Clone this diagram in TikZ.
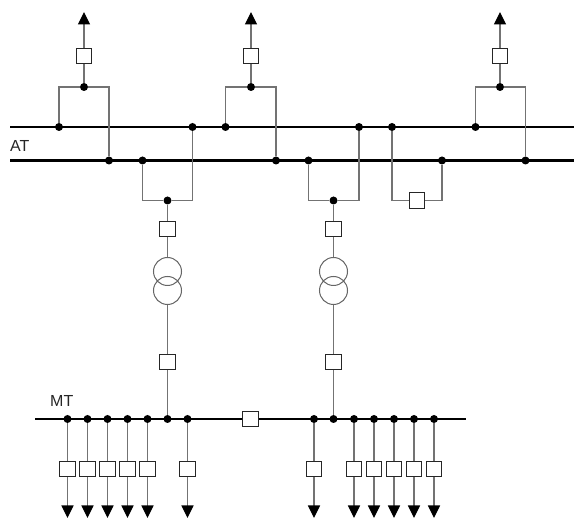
\documentclass[tikz,border=0pt]{standalone}
\usepackage{fontspec}
\setmainfont{Liberation Sans}
\usepackage{tikz}
\usetikzlibrary{arrows.meta}
\tikzstyle{brk} = [draw=black!85, fill=white, rectangle, line width=1.3pt, minimum width=15.5pt, minimum height=15.5pt, inner sep=0pt]
\tikzstyle{dot} = [fill=black, circle, minimum size=8pt, inner sep=0pt]
\tikzstyle{coil} = [draw=black!60, circle, line width=1pt, minimum size=28pt, inner sep=0pt]
\tikzstyle{lab} = [inner sep=0pt, font=\fontsize{16}{16}\selectfont, text=black!85]
\tikzstyle{bus} = [draw, line width=2.8pt, color=black]
\tikzstyle{wire} = [draw, line width=1.2pt, color=black!55]
\tikzstyle{arr} = [wire, -{Triangle[width=12pt,length=12.5pt,black]}]

\begin{document}
\begin{tikzpicture}[x=1pt,y=-1pt]
    \useasboundingbox (0,0) rectangle (574,518);
    \fill [white] (0,0) rectangle (574,518);

    \node [lab, anchor=base west] (at) at (10,152) {AT};
    \node [lab, anchor=base west] (mt) at (50,407) {MT};

    % busbars
    \coordinate (aw) at (10,127);
    \coordinate (ae) at (574,127);
    \coordinate (bw) at (10,160.5);
    \coordinate (be) at (574,160.5);
    \coordinate (mw) at (35,419);
    \coordinate (me) at (466,419);
    \node [brk] (mc) at (250.5,419) {};
    \draw [bus] (aw) -- (ae);
    \draw [bus] (bw) -- (be);
    \draw [bus] (mw) -- (mc);
    \draw [bus] (mc) -- (me);

    % AT bays going up
    \node [dot] (u1) at (84,87) {};
    \node [dot] (u1a) at (59,127) {};
    \node [dot] (u1b) at (109,160.5) {};
    \node [brk] (u1s) at (84,56) {};
    \coordinate (u1t) at (84,12);
    \draw [wire] (u1a) |- (u1) -| (u1b);
    \draw [wire] (u1) -- (u1s);
    \draw [arr] (u1s) -- (u1t);

    \node [dot] (u2) at (251,87) {};
    \node [dot] (u2a) at (225.5,127) {};
    \node [dot] (u2b) at (276,160.5) {};
    \node [brk] (u2s) at (251,56) {};
    \coordinate (u2t) at (251,12);
    \draw [wire] (u2a) |- (u2) -| (u2b);
    \draw [wire] (u2) -- (u2s);
    \draw [arr] (u2s) -- (u2t);

    \node [dot] (u3) at (500,87) {};
    \node [dot] (u3a) at (475.5,127) {};
    \node [dot] (u3b) at (525.5,160.5) {};
    \node [brk] (u3s) at (500,56) {};
    \coordinate (u3t) at (500,12);
    \draw [wire] (u3a) |- (u3) -| (u3b);
    \draw [wire] (u3) -- (u3s);
    \draw [arr] (u3s) -- (u3t);

    % transformer bays
    \node [dot] (d1) at (167.5,200.5) {};
    \node [dot] (d1a) at (142.5,160.5) {};
    \node [dot] (d1b) at (192.5,127) {};
    \node [brk] (d1s) at (167.5,229) {};
    \node [coil] (d1h) at (167.5,271.5) {};
    \node [coil] (d1l) at (167.5,290.5) {};
    \node [brk] (d1m) at (167.5,362) {};
    \node [dot] (m6) at (167.5,419) {};
    \draw [wire] (d1a) |- (d1) -| (d1b);
    \draw [wire] (d1) -- (d1s);
    \draw [wire] (d1s) -- (d1h);
    \draw [wire] (d1l) -- (d1m);
    \draw [wire] (d1m) -- (m6);

    \node [dot] (d2) at (333.5,200.5) {};
    \node [dot] (d2a) at (308.5,160.5) {};
    \node [dot] (d2b) at (359,127) {};
    \node [brk] (d2s) at (333.5,229) {};
    \node [coil] (d2h) at (333.5,271.5) {};
    \node [coil] (d2l) at (333.5,290.5) {};
    \node [brk] (d2m) at (333.5,362) {};
    \node [dot] (n2) at (333.5,419) {};
    \draw [wire] (d2a) |- (d2) -| (d2b);
    \draw [wire] (d2) -- (d2s);
    \draw [wire] (d2s) -- (d2h);
    \draw [wire] (d2l) -- (d2m);
    \draw [wire] (d2m) -- (n2);

    % bus coupler
    \node [dot] (ca) at (392,127) {};
    \node [dot] (cb) at (442,160.5) {};
    \node [brk] (cs) at (417,200.5) {};
    \draw [wire] (ca) |- (cs.west);
    \draw [wire] (cs.east) -| (cb);

    % MT feeders left
    \node [dot] (m1) at (67.5,419) {};
    \node [dot] (m2) at (87.5,419) {};
    \node [dot] (m3) at (107.5,419) {};
    \node [dot] (m4) at (127.5,419) {};
    \node [dot] (m5) at (147.5,419) {};
    \node [dot] (m7) at (187.5,419) {};
    \node [brk] (m1s) at (67.5,469) {};
    \node [brk] (m2s) at (87.5,469) {};
    \node [brk] (m3s) at (107.5,469) {};
    \node [brk] (m4s) at (127.5,469) {};
    \node [brk] (m5s) at (147.5,469) {};
    \node [brk] (m7s) at (187.5,469) {};
    \coordinate (m1e) at (67.5,518);
    \coordinate (m2e) at (87.5,518);
    \coordinate (m3e) at (107.5,518);
    \coordinate (m4e) at (127.5,518);
    \coordinate (m5e) at (147.5,518);
    \coordinate (m7e) at (187.5,518);
    \draw [wire] (m1) -- (m1s);
    \draw [wire] (m2) -- (m2s);
    \draw [wire] (m3) -- (m3s);
    \draw [wire] (m4) -- (m4s);
    \draw [wire] (m5) -- (m5s);
    \draw [wire] (m7) -- (m7s);
    \draw [arr] (m1s) -- (m1e);
    \draw [arr] (m2s) -- (m2e);
    \draw [arr] (m3s) -- (m3e);
    \draw [arr] (m4s) -- (m4e);
    \draw [arr] (m5s) -- (m5e);
    \draw [arr] (m7s) -- (m7e);

    % MT feeders right
    \node [dot] (n1) at (314,419) {};
    \node [dot] (n3) at (354,419) {};
    \node [dot] (n4) at (374,419) {};
    \node [dot] (n5) at (394,419) {};
    \node [dot] (n6) at (414,419) {};
    \node [dot] (n7) at (434,419) {};
    \node [brk] (n1s) at (314,469) {};
    \node [brk] (n3s) at (354,469) {};
    \node [brk] (n4s) at (374,469) {};
    \node [brk] (n5s) at (394,469) {};
    \node [brk] (n6s) at (414,469) {};
    \node [brk] (n7s) at (434,469) {};
    \coordinate (n1e) at (314,518);
    \coordinate (n3e) at (354,518);
    \coordinate (n4e) at (374,518);
    \coordinate (n5e) at (394,518);
    \coordinate (n6e) at (414,518);
    \coordinate (n7e) at (434,518);
    \draw [wire] (n1) -- (n1s);
    \draw [wire] (n3) -- (n3s);
    \draw [wire] (n4) -- (n4s);
    \draw [wire] (n5) -- (n5s);
    \draw [wire] (n6) -- (n6s);
    \draw [wire] (n7) -- (n7s);
    \draw [arr] (n1s) -- (n1e);
    \draw [arr] (n3s) -- (n3e);
    \draw [arr] (n4s) -- (n4e);
    \draw [arr] (n5s) -- (n5e);
    \draw [arr] (n6s) -- (n6e);
    \draw [arr] (n7s) -- (n7e);
\end{tikzpicture}
\end{document}
